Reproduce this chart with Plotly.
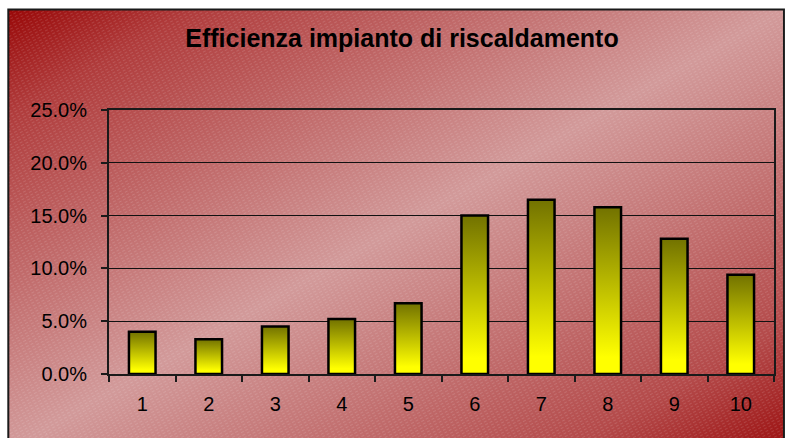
import base64
import plotly.graph_objects as go

# ---- data ----
categories = [1, 2, 3, 4, 5, 6, 7, 8, 9, 10]
category_labels = ["1", "2", "3", "4", "5", "6", "7", "8", "9", "10"]
efficiency = [0.040, 0.033, 0.045, 0.052, 0.067, 0.150, 0.165, 0.158, 0.128, 0.094]
y_ticks = [0.0, 0.05, 0.10, 0.15, 0.20, 0.25]
title_text = "Efficienza impianto di riscaldamento"

# ---- layout geometry ----
W, H = 787, 438
ML, MR, MT, MB = 109, 11, 110, 64
PW, PH = W - ML - MR, H - MT - MB

# background (Excel-like diagonal gradient with fine hatch)
svg = f'''<svg xmlns="http://www.w3.org/2000/svg" width="{W}" height="{H}" viewBox="0 0 {W} {H}">
<defs>
<linearGradient id="g" x1="0" y1="0" x2="1" y2="1">
<stop offset="0" stop-color="#990808"/>
<stop offset="0.12" stop-color="#b03c3c"/>
<stop offset="0.5" stop-color="#d29a9a"/>
<stop offset="0.86" stop-color="#b44a4a"/>
<stop offset="1" stop-color="#9c1010"/>
</linearGradient>
<pattern id="p" width="5" height="3" patternUnits="userSpaceOnUse" patternTransform="rotate(-28)">
<rect x="0" y="0" width="3" height="1" fill="#ffffff" fill-opacity="0.13"/>
</pattern>
</defs>
<rect x="0" y="0" width="{W}" height="{H}" fill="#ffffff"/>
<rect x="8" y="9.5" width="778" height="440" fill="url(#g)"/>
<rect x="8" y="9.5" width="778" height="440" fill="url(#p)"/>
<rect x="8" y="9.5" width="778" height="440" fill="none" stroke="#1a1a1a" stroke-width="2"/>
</svg>'''
bg_uri = "data:image/svg+xml;base64," + base64.b64encode(svg.encode()).decode()

fig = go.Figure()

half = 0.2
for c, v in zip(categories, efficiency):
    fig.add_trace(go.Scatter(
        x=[c - half, c - half, c + half, c + half, c - half],
        y=[0, v, v, 0, 0],
        mode="lines",
        fill="toself",
        fillgradient=dict(type="vertical",
                          colorscale=[[0, "#ffff00"], [0.1, "#ffff00"], [1, "#727200"]]),
        line=dict(color="black", width=2.5),
        hoverinfo="skip",
        showlegend=False,
    ))

font_family = "Liberation Sans, Arial, sans-serif"

fig.update_layout(
    width=W, height=H,
    margin=dict(l=ML, r=MR, t=MT, b=MB, pad=0),
    paper_bgcolor="#ffffff",
    plot_bgcolor="rgba(0,0,0,0)",
    font=dict(family=font_family, color="black", size=20),
    title=dict(text=title_text, x=(402) / W, xanchor="center",
               y=1 - 38.5 / H, yanchor="middle", yref="container",
               font=dict(family=font_family, size=25, color="black", weight="bold")),
    showlegend=False,
    images=[dict(source=bg_uri, xref="paper", yref="paper",
                 x=-ML / PW, y=1 + MT / PH, sizex=W / PW, sizey=H / PH,
                 xanchor="left", yanchor="top", sizing="stretch", layer="below")],
    xaxis=dict(range=[0.5, 10.5], tickmode="array", tickvals=categories,
               ticktext=category_labels, ticks="", showgrid=False, zeroline=False,
               showline=True, linecolor="#1a1a1a", linewidth=2, mirror=True,
               ticklabelstandoff=11,
               minor=dict(tickmode="linear", tick0=0.5, dtick=1, ticks="outside",
                          ticklen=6, tickcolor="#1a1a1a", tickwidth=1.5, showgrid=False),
               fixedrange=True),
    yaxis=dict(range=[0, 0.25], tickmode="array", tickvals=y_ticks, tickformat=".1%",
               ticks="outside", ticklen=6, tickcolor="#1a1a1a", tickwidth=1.5,
               showgrid=True, gridcolor="#111111", gridwidth=1, zeroline=False,
               showline=True, linecolor="#1a1a1a", linewidth=2, mirror=True,
               ticklabelstandoff=10, fixedrange=True),
)

fig.write_html("out.html")
